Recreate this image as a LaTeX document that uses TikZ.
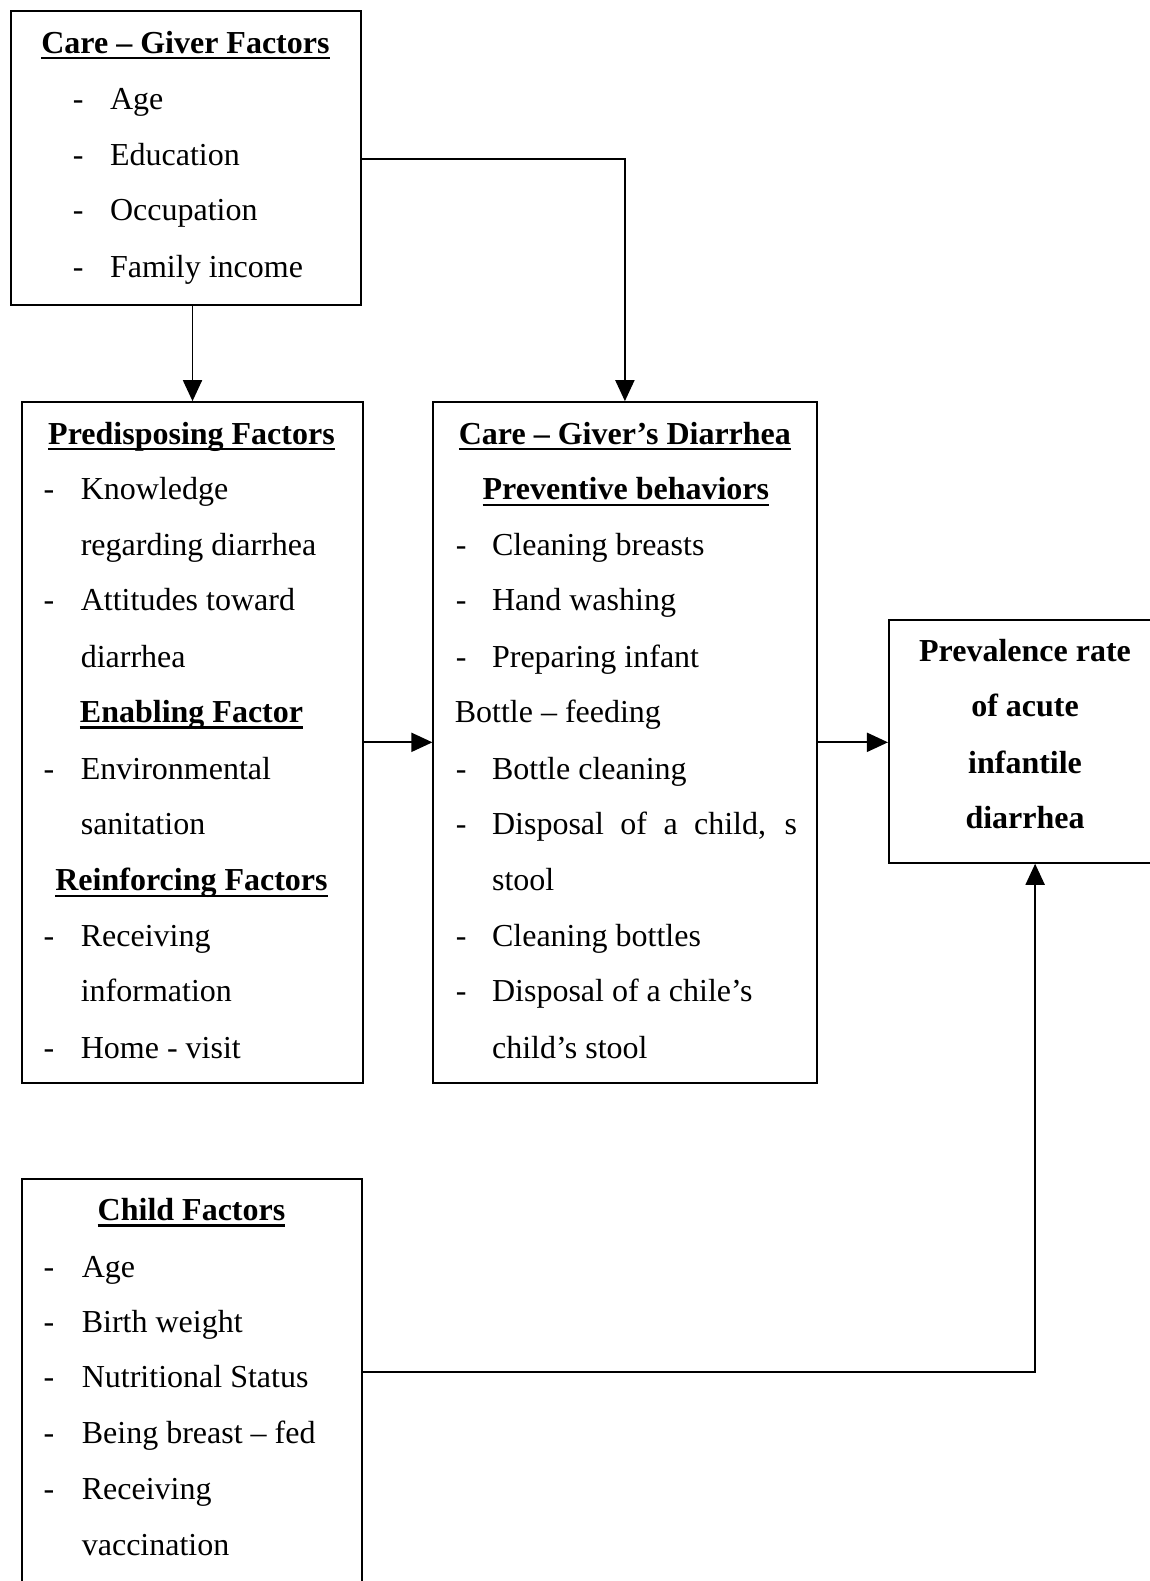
\documentclass[tikz,border=0pt]{standalone}
\usepackage{fontspec}
\setmainfont{Liberation Serif}
\usetikzlibrary{arrows.meta,fit}
\newcommand\myul[1]{\setbox0\hbox{#1}\rlap{\rule[-6pt]{\wd0}{2.4pt}}\box0}
\begin{document}
\begin{tikzpicture}[x=1.0079pt,y=-1.0079pt,
  box/.style={draw, line width=2pt, inner sep=0pt},
  txt/.style={anchor=base west, inner sep=0pt, font=\fontsize{32}{38}\selectfont},
  hd/.style={anchor=base, inner sep=0pt, font=\fontsize{32}{38}\selectfont\bfseries},
  arr/.style={line width=1.9pt, -{Triangle[length=21pt,width=19pt]}}]
\useasboundingbox[fill=white] (0,0) rectangle (1140,1568.6);

% boxes
\node[box, fit={(11,11) (358,303)}] (b1) {};
\node[box, fit={(22,399) (360,1074)}] (b2) {};
\node[box, fit={(430,399) (811,1074)}] (b3) {};
\node[box, fit={(882,615) (1152,856)}] (b4) {};
\node[box, fit={(22,1170) (359,1620)}] (b5) {};

% box 1
\node[hd] (t1) at (184,53) {\myul{Care – Giver Factors}};
\foreach \y/\t [count=\i] in {109/Age,164/Education,219/Occupation,275/Family income}{
  \node[txt] (d1\i) at (72,\y) {-};
  \node[txt] (i1\i) at (109,\y) {\t};
}

% box 2
\node[hd] (t2) at (190,441) {\myul{Predisposing Factors}};
\node[txt] (d21) at (43,496) {-};
\node[txt] (i21) at (80,496) {Knowledge};
\node[txt] (i22) at (80,551) {regarding diarrhea};
\node[txt] (d23) at (43,606) {-};
\node[txt] (i23) at (80,606) {Attitudes toward};
\node[txt] (i24) at (80,662) {diarrhea};
\node[hd] (t22) at (190,717) {\myul{Enabling Factor}};
\node[txt] (d25) at (43,773) {-};
\node[txt] (i25) at (80,773) {Environmental};
\node[txt] (i26) at (80,828) {sanitation};
\node[hd] (t23) at (190,884) {\myul{Reinforcing Factors}};
\node[txt] (d27) at (43,939) {-};
\node[txt] (i27) at (80,939) {Receiving};
\node[txt] (i28) at (80,994) {information};
\node[txt] (d29) at (43,1050) {-};
\node[txt] (i29) at (80,1050) {Home - visit};

% box 3
\node[hd] (t3) at (620,441) {\myul{Care – Giver’s Diarrhea}};
\node[hd] (t32) at (621,496) {\myul{Preventive behaviors}};
\node[txt] (d31) at (452,551) {-};
\node[txt] (i31) at (488,551) {Cleaning breasts};
\node[txt] (d32) at (452,606) {-};
\node[txt] (i32) at (488,606) {Hand washing};
\node[txt] (d33) at (452,662) {-};
\node[txt] (i33) at (488,662) {Preparing infant};
\node[txt] (i34) at (451,717) {Bottle – feeding};
\node[txt] (d35) at (452,773) {-};
\node[txt] (i35) at (488,773) {Bottle cleaning};
\node[txt] (d36) at (452,828) {-};
\node[txt] (i36) at (488,828) {\makebox[305pt][s]{Disposal of a child, s}};
\node[txt] (i37) at (488,884) {stool};
\node[txt] (d38) at (452,939) {-};
\node[txt] (i38) at (488,939) {Cleaning bottles};
\node[txt] (d39) at (452,994) {-};
\node[txt] (i39) at (488,994) {Disposal of a chile’s};
\node[txt] (i310) at (488,1050) {child’s stool};

% box 4
\foreach \y/\t [count=\i] in {656/Prevalence rate,711/of acute,767/infantile,822/diarrhea}{
  \node[hd] (i4\i) at (1017,\y) {\t};
}

% box 5
\node[hd] (t5) at (190,1211) {\myul{Child Factors}};
\foreach \y/\t [count=\i] in {1267/Age,1322/Birth weight,1377/Nutritional Status,1432/Being breast – fed,1488/Receiving}{
  \node[txt] (d5\i) at (43,\y) {-};
  \node[txt] (i5\i) at (81,\y) {\t};
}
\node[txt] (i56) at (81,1543) {vaccination};

% connectors
\coordinate (j1) at (620,158);
\coordinate (j5) at (1027,1361);
\draw[arr] (b1.south -| b2.north) -- (b2.north);
\draw[arr] (b1.east |- j1) -| (b3.north -| j1);
\draw[arr] (b2.east) -- (b3.west);
\draw[arr] (b3.east) -- (b3.east -| b4.west);
\draw[arr] (b5.east |- j5) -| (b4.south -| j5);
\end{tikzpicture}
\end{document}
